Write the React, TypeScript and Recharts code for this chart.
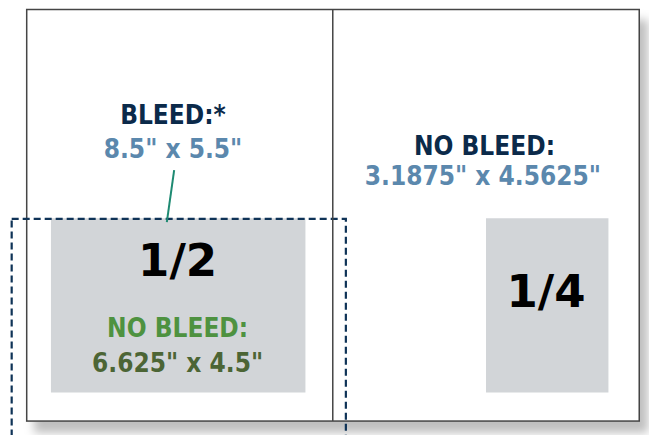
import { ComposedChart, XAxis, YAxis, ReferenceArea, ReferenceLine, Scatter } from "recharts";

// diagram units are inches, origin at the page's top-left corner
const W = 649;
const H = 435;
const PX_PER_IN = 38.5;
const ORIGIN_PX = { x: 26.7, y: 9.5 };

const page = { x1: 0, x2: 15.91, y1: 0, y2: 10.69 };
const foldX = 7.95;

const adBoxes = [
  { name: "half", x1: 0.63, x2: 7.24, y1: 5.42, y2: 9.95 },
  { name: "quarter", x1: 11.93, x2: 15.11, y1: 5.42, y2: 9.95 },
];

const bleedBox = { x1: -0.39, x2: 8.29, y1: 5.44, y2: 11.3 };

const leader = [
  { x: 3.83, y: 4.17 },
  { x: 3.64, y: 5.52 },
];

const labels = [
  { x: 3.8, y: 2.97, text: "BLEED:*", role: "head" },
  { x: 3.8, y: 3.86, text: "8.5\" x 5.5\"", role: "dim" },
  { x: 11.89, y: 3.79, text: "NO BLEED:", role: "head" },
  { x: 11.85, y: 4.56, text: "3.1875\" x 4.5625\"", role: "dim" },
  { x: 3.92, y: 6.92, text: "1/2", role: "big" },
  { x: 3.92, y: 8.51, text: "NO BLEED:", role: "green" },
  { x: 3.92, y: 9.42, text: "6.625\" x 4.5\"", role: "olive" },
  { x: 13.49, y: 7.73, text: "1/4", role: "big" },
];

const condensed = "'DejaVu Sans Condensed', 'DejaVu Sans', sans-serif";

const roleStyle: Record<string, any> = {
  head: { fill: "#0b2a4a", fontSize: 26, fontFamily: condensed, fontStretch: "condensed" },
  dim: { fill: "#5b88ad", fontSize: 26, fontFamily: condensed, fontStretch: "condensed" },
  green: { fill: "#4e9240", fontSize: 26, fontFamily: condensed, fontStretch: "condensed" },
  olive: { fill: "#4c6535", fontSize: 26, fontFamily: condensed, fontStretch: "condensed" },
  big: { fill: "#000", fontSize: 45, fontFamily: "'DejaVu Sans', sans-serif" },
};

const xDomain = [-ORIGIN_PX.x / PX_PER_IN, (W - ORIGIN_PX.x) / PX_PER_IN];
const yDomain = [-ORIGIN_PX.y / PX_PER_IN, (H - ORIGIN_PX.y) / PX_PER_IN];

const PageShape = (p: any) => (
  <g>
    <defs>
      <filter id="pageShadow" x="-10%" y="-10%" width="130%" height="130%">
        <feDropShadow dx="8" dy="11" stdDeviation="5" floodColor="#000" floodOpacity="0.25" />
      </filter>
    </defs>
    <rect x={p.x} y={p.y} width={p.width} height={p.height} fill="#fff" stroke="#444" strokeWidth={1.5} filter="url(#pageShadow)" />
  </g>
);

const LabelShape = (p: any) => {
  const s = roleStyle[p.payload.role];
  return (
    <text x={p.cx} y={p.cy} textAnchor="middle" fontWeight="bold" {...s}>
      {p.payload.text}
    </text>
  );
};

export default function App() {
  return (
    <div style={{ position: "absolute", left: 0, top: 0, background: "#fff" }}>
      <ComposedChart width={W} height={H} margin={{ top: 0, right: 0, bottom: 0, left: 0 }}>
        <XAxis type="number" dataKey="x" domain={xDomain} allowDataOverflow hide />
        <YAxis type="number" dataKey="y" domain={yDomain} allowDataOverflow reversed hide />
        <ReferenceArea {...page} ifOverflow="hidden" shape={PageShape} />
        <ReferenceLine stroke="#444" strokeWidth={1.5} segment={[{ x: foldX, y: page.y1 }, { x: foldX, y: page.y2 }]} ifOverflow="hidden" />
        {adBoxes.map((b) => (
          <ReferenceArea key={b.name} x1={b.x1} x2={b.x2} y1={b.y1} y2={b.y2} fill="#d2d5d8" fillOpacity={1} stroke="none" ifOverflow="hidden" />
        ))}
        <ReferenceArea {...bleedBox} fill="none" stroke="#0f3357" strokeOpacity={1} strokeWidth={2.2} strokeDasharray="7 4" ifOverflow="hidden" />
        <ReferenceLine segment={leader} stroke="#1e8a72" strokeWidth={2} ifOverflow="hidden" />
        <Scatter data={labels} shape={LabelShape} isAnimationActive={false} />
      </ComposedChart>
    </div>
  );
}
